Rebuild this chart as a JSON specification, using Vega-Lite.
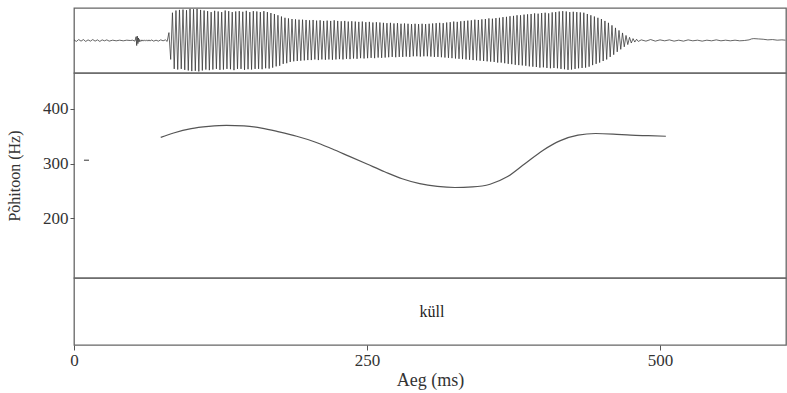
{
  "$schema": "https://vega.github.io/schema/vega-lite/v6.json",
  "background": "white",
  "padding": {"left": 5, "top": 7, "right": 0, "bottom": 0},
  "spacing": 0,
  "bounds": "flush",
  "config": {
    "font": "Liberation Serif",
    "view": {"stroke": "#666", "strokeWidth": 1.3},
    "axis": {"grid": false, "domain": false, "labelFont": "Liberation Serif", "titleFont": "Liberation Serif", "labelFontSize": 17, "titleFontSize": 16, "titleFontWeight": "normal", "labelColor": "#333", "titleColor": "#333", "tickColor": "#555"},
    "text": {"font": "Liberation Serif"}
  },
  "vconcat": [
    {
      "width": 712, "height": 65,
      "data": {"values": [
        {"t":0,"a":0.02},{"t":2,"a":-0.03},{"t":4,"a":0.03},{"t":6,"a":-0.02},{"t":8,"a":0.03},{"t":10,"a":-0.03},{"t":12,"a":0.02},{"t":14,"a":-0.02},{"t":16,"a":0.03},{"t":18,"a":-0.02},{"t":20,"a":0.02},{"t":22,"a":-0.03},{"t":24,"a":0.02},{"t":26,"a":-0.01},{"t":28,"a":0.02},{"t":30,"a":-0.02},{"t":33,"a":0.01},{"t":36,"a":-0.01},{"t":39,"a":0.01},{"t":42,"a":-0.01},{"t":45,"a":0.01},{"t":48,"a":0},{"t":50,"a":0.01},{"t":52,"a":-0.02},{"t":53,"a":0.12},{"t":53.5,"a":-0.16},{"t":54,"a":0.14},{"t":54.5,"a":-0.1},{"t":55,"a":0.08},{"t":55.5,"a":-0.05},{"t":56,"a":0.03},{"t":57,"a":-0.03},{"t":58,"a":0.02},{"t":59,"a":-0.02},{"t":60,"a":0.02},{"t":61,"a":-0.02},{"t":62,"a":0.02},{"t":63,"a":-0.02},{"t":64,"a":0.02},{"t":65,"a":-0.02},{"t":66,"a":0.02},{"t":68,"a":-0.02},{"t":70,"a":0.01},{"t":72,"a":-0.02},{"t":74,"a":0.02},{"t":76,"a":-0.01},{"t":78,"a":0.02},{"t":79.5,"a":-0.03},
        {"t":81,"a":0.25},{"t":82.5,"a":-0.6},{"t":84,"a":0.88},{"t":85.5,"a":-0.9},{"t":87,"a":0.95},{"t":88.5,"a":-0.92},{"t":90,"a":0.97},{"t":91.5,"a":-0.9},{"t":93,"a":0.98},{"t":94.5,"a":-0.93},
        {"t":96,"a":0.96},{"t":97.5,"a":-0.95},{"t":99,"a":1.0},{"t":100.5,"a":-0.97},{"t":102,"a":0.99},{"t":103.5,"a":-0.96},{"t":105,"a":1.0},{"t":106.5,"a":-0.98},{"t":108,"a":0.97},{"t":109.5,"a":-0.95},
        {"t":111,"a":0.95},{"t":112.5,"a":-0.92},{"t":114,"a":0.93},{"t":115.5,"a":-0.94},{"t":117,"a":0.9},{"t":118.5,"a":-0.92},{"t":120,"a":0.94},{"t":121.5,"a":-0.9},{"t":123,"a":0.92},{"t":124.5,"a":-0.93},
        {"t":126,"a":0.9},{"t":127.5,"a":-0.92},{"t":129,"a":0.95},{"t":130.5,"a":-0.9},{"t":132,"a":0.93},{"t":133.5,"a":-0.91},{"t":135,"a":0.9},{"t":136.5,"a":-0.94},{"t":138,"a":0.92},{"t":139.5,"a":-0.9},
        {"t":141,"a":0.93},{"t":142.5,"a":-0.9},{"t":144,"a":0.91},{"t":145.5,"a":-0.93},{"t":147,"a":0.94},{"t":148.5,"a":-0.91},{"t":150,"a":0.9},{"t":151.5,"a":-0.92},{"t":153,"a":0.93},{"t":154.5,"a":-0.9},
        {"t":156,"a":0.92},{"t":157.5,"a":-0.9},{"t":159,"a":0.9},{"t":160.5,"a":-0.91},{"t":162,"a":0.93},{"t":163.5,"a":-0.88},{"t":165,"a":0.9},{"t":166.5,"a":-0.89},{"t":168,"a":0.87},{"t":169.5,"a":-0.86},
        {"t":171,"a":0.84},{"t":172.5,"a":-0.82},{"t":174,"a":0.8},{"t":175.5,"a":-0.8},{"t":177,"a":0.76},{"t":178.5,"a":-0.74},{"t":180,"a":0.72},{"t":181.5,"a":-0.72},{"t":183,"a":0.7},{"t":184.5,"a":-0.68},
        {"t":186,"a":0.68},{"t":187.5,"a":-0.66},{"t":189,"a":0.67},{"t":190.5,"a":-0.65},{"t":192,"a":0.66},{"t":193.5,"a":-0.64},{"t":195,"a":0.66},{"t":196.5,"a":-0.63},{"t":198,"a":0.65},{"t":199.5,"a":-0.62},
        {"t":201,"a":0.64},{"t":202.5,"a":-0.62},{"t":204,"a":0.65},{"t":205.5,"a":-0.6},{"t":207,"a":0.63},{"t":208.5,"a":-0.62},{"t":210,"a":0.64},{"t":211.5,"a":-0.6},{"t":213,"a":0.62},{"t":214.5,"a":-0.61},
        {"t":216,"a":0.63},{"t":217.5,"a":-0.6},{"t":219,"a":0.62},{"t":220.5,"a":-0.61},{"t":222,"a":0.64},{"t":223.5,"a":-0.6},{"t":225,"a":0.62},{"t":226.5,"a":-0.59},{"t":228,"a":0.61},{"t":229.5,"a":-0.6},
        {"t":231,"a":0.62},{"t":232.5,"a":-0.58},{"t":234,"a":0.6},{"t":235.5,"a":-0.59},{"t":237,"a":0.61},{"t":238.5,"a":-0.57},{"t":240,"a":0.6},{"t":241.5,"a":-0.58},{"t":243,"a":0.59},{"t":244.5,"a":-0.56},
        {"t":246,"a":0.6},{"t":247.5,"a":-0.57},{"t":249,"a":0.58},{"t":250.5,"a":-0.56},{"t":252,"a":0.59},{"t":253.5,"a":-0.55},{"t":255,"a":0.57},{"t":256.5,"a":-0.56},{"t":258,"a":0.58},{"t":259.5,"a":-0.54},
        {"t":261,"a":0.57},{"t":262.5,"a":-0.55},{"t":264,"a":0.56},{"t":265.5,"a":-0.54},{"t":267,"a":0.55},{"t":268.5,"a":-0.53},{"t":270,"a":0.56},{"t":271.5,"a":-0.52},{"t":273,"a":0.54},{"t":274.5,"a":-0.53},
        {"t":276,"a":0.55},{"t":277.5,"a":-0.52},{"t":279,"a":0.53},{"t":280.5,"a":-0.52},{"t":282,"a":0.54},{"t":283.5,"a":-0.51},{"t":285,"a":0.53},{"t":286.5,"a":-0.52},{"t":288,"a":0.52},{"t":289.5,"a":-0.5},
        {"t":291,"a":0.53},{"t":292.5,"a":-0.5},{"t":294,"a":0.52},{"t":295.5,"a":-0.51},{"t":297,"a":0.53},{"t":298.5,"a":-0.5},{"t":300,"a":0.52},{"t":301.5,"a":-0.5},{"t":303,"a":0.53},{"t":304.5,"a":-0.51},
        {"t":306,"a":0.54},{"t":307.5,"a":-0.52},{"t":309,"a":0.55},{"t":310.5,"a":-0.52},{"t":312,"a":0.56},{"t":313.5,"a":-0.53},{"t":315,"a":0.55},{"t":316.5,"a":-0.54},{"t":318,"a":0.57},{"t":319.5,"a":-0.55},
        {"t":321,"a":0.58},{"t":322.5,"a":-0.56},{"t":324,"a":0.6},{"t":325.5,"a":-0.57},{"t":327,"a":0.59},{"t":328.5,"a":-0.58},{"t":330,"a":0.61},{"t":331.5,"a":-0.59},{"t":333,"a":0.62},{"t":334.5,"a":-0.6},
        {"t":336,"a":0.63},{"t":337.5,"a":-0.61},{"t":339,"a":0.64},{"t":340.5,"a":-0.62},{"t":342,"a":0.66},{"t":343.5,"a":-0.63},{"t":345,"a":0.65},{"t":346.5,"a":-0.64},{"t":348,"a":0.67},{"t":349.5,"a":-0.65},
        {"t":351,"a":0.68},{"t":352.5,"a":-0.66},{"t":354,"a":0.7},{"t":355.5,"a":-0.67},{"t":357,"a":0.69},{"t":358.5,"a":-0.68},{"t":360,"a":0.71},{"t":361.5,"a":-0.7},{"t":363,"a":0.72},{"t":364.5,"a":-0.7},
        {"t":366,"a":0.74},{"t":367.5,"a":-0.72},{"t":369,"a":0.75},{"t":370.5,"a":-0.74},{"t":372,"a":0.77},{"t":373.5,"a":-0.75},{"t":375,"a":0.78},{"t":376.5,"a":-0.77},{"t":378,"a":0.8},{"t":379.5,"a":-0.78},
        {"t":381,"a":0.8},{"t":382.5,"a":-0.79},{"t":384,"a":0.82},{"t":385.5,"a":-0.8},{"t":387,"a":0.83},{"t":388.5,"a":-0.82},{"t":390,"a":0.84},{"t":391.5,"a":-0.83},{"t":393,"a":0.86},{"t":394.5,"a":-0.84},
        {"t":396,"a":0.85},{"t":397.5,"a":-0.86},{"t":399,"a":0.87},{"t":400.5,"a":-0.85},{"t":402,"a":0.88},{"t":403.5,"a":-0.87},{"t":405,"a":0.86},{"t":406.5,"a":-0.88},{"t":408,"a":0.89},{"t":409.5,"a":-0.87},
        {"t":411,"a":0.9},{"t":412.5,"a":-0.88},{"t":414,"a":0.92},{"t":415.5,"a":-0.9},{"t":417,"a":0.93},{"t":418.5,"a":-0.91},{"t":420,"a":0.92},{"t":421.5,"a":-0.93},{"t":423,"a":0.9},{"t":424.5,"a":-0.92},
        {"t":426,"a":0.91},{"t":427.5,"a":-0.9},{"t":429,"a":0.9},{"t":430.5,"a":-0.88},{"t":432,"a":0.89},{"t":433.5,"a":-0.87},{"t":435,"a":0.88},{"t":436.5,"a":-0.86},{"t":438,"a":0.84},{"t":439.5,"a":-0.83},
        {"t":441,"a":0.8},{"t":442.5,"a":-0.78},{"t":444,"a":0.76},{"t":445.5,"a":-0.74},{"t":447,"a":0.72},{"t":448.5,"a":-0.7},{"t":450,"a":0.68},{"t":451.5,"a":-0.65},{"t":453,"a":0.62},{"t":454.5,"a":-0.6},
        {"t":456,"a":0.56},{"t":457.5,"a":-0.52},{"t":459,"a":0.48},{"t":460.5,"a":-0.45},{"t":462,"a":0.4},{"t":463.5,"a":-0.36},{"t":465,"a":0.32},{"t":466.5,"a":-0.28},{"t":468,"a":0.24},{"t":469.5,"a":-0.2},
        {"t":471,"a":0.16},{"t":472.5,"a":-0.13},{"t":474,"a":0.1},{"t":475.5,"a":-0.08},{"t":477,"a":0.06},{"t":478.5,"a":-0.05},{"t":480,"a":0.04},{"t":481.5,"a":-0.03},
        {"t":484,"a":0.02},{"t":488,"a":-0.02},{"t":492,"a":0.03},{"t":496,"a":-0.02},{"t":500,"a":0.02},{"t":504,"a":-0.01},{"t":508,"a":0.02},{"t":512,"a":-0.02},{"t":516,"a":0.01},{"t":520,"a":-0.02},{"t":524,"a":0.02},{"t":528,"a":-0.01},{"t":532,"a":0.01},{"t":536,"a":-0.02},{"t":540,"a":0.01},{"t":544,"a":-0.01},{"t":548,"a":0.02},{"t":552,"a":-0.01},{"t":556,"a":0.01},{"t":560,"a":-0.01},{"t":564,"a":0.01},{"t":568,"a":-0.01},{"t":572,"a":0},{"t":576,"a":0.02},{"t":578,"a":0.05},{"t":580,"a":0.06},{"t":584,"a":0.05},{"t":588,"a":0.04},{"t":592,"a":0.02},{"t":596,"a":0.03},{"t":600,"a":0.01},{"t":604,"a":0.02},{"t":607,"a":0.01}
      ]},
      "mark": {"type": "line", "color": "#333", "strokeWidth": 0.75, "clip": true},
      "encoding": {
        "x": {"field": "t", "type": "quantitative", "scale": {"domain": [0, 607.5], "nice": false, "zero": false}, "axis": null},
        "y": {"field": "a", "type": "quantitative", "scale": {"domain": [-1.03, 1.03], "nice": false}, "axis": null}
      }
    },
    {
      "width": 712, "height": 205,
      "data": {"values": [
        {"s":"a","t":8.5,"f":306},{"s":"a","t":12.8,"f":306},
        {"s":"b","t":74,"f":348},{"s":"b","t":85,"f":356},{"s":"b","t":100,"f":364},{"s":"b","t":115,"f":368},{"s":"b","t":130,"f":370},{"s":"b","t":145,"f":369},{"s":"b","t":160,"f":365},{"s":"b","t":175,"f":358},{"s":"b","t":190,"f":350},{"s":"b","t":205,"f":340},{"s":"b","t":220,"f":327},{"s":"b","t":235,"f":313},{"s":"b","t":250,"f":299},{"s":"b","t":265,"f":285},{"s":"b","t":280,"f":272},{"s":"b","t":295,"f":263},{"s":"b","t":310,"f":258},{"s":"b","t":325,"f":256},{"s":"b","t":340,"f":257},{"s":"b","t":355,"f":262},{"s":"b","t":370,"f":276},{"s":"b","t":385,"f":300},{"s":"b","t":400,"f":324},{"s":"b","t":415,"f":342},{"s":"b","t":430,"f":352},{"s":"b","t":445,"f":355},{"s":"b","t":460,"f":354},{"s":"b","t":475,"f":352},{"s":"b","t":490,"f":351},{"s":"b","t":505,"f":350}
      ]},
      "mark": {"type": "line", "color": "#555", "strokeWidth": 1.2, "interpolate": "monotone"},
      "encoding": {
        "x": {"field": "t", "type": "quantitative", "scale": {"domain": [0, 607.5], "nice": false, "zero": false}, "axis": null},
        "y": {"field": "f", "type": "quantitative", "scale": {"domain": [90, 466], "nice": false, "zero": false},
              "axis": {"values": [200, 300, 400], "title": "Põhitoon (Hz)", "tickSize": 4, "labelPadding": 2, "titlePadding": 20}},
        "detail": {"field": "s"}
      }
    },
    {
      "width": 712, "height": 67,
      "data": {"values": [{"t": 305.5, "w": "küll"}]},
      "mark": {"type": "text", "font": "Liberation Serif", "fontSize": 16, "color": "#222", "baseline": "middle", "align": "center"},
      "encoding": {
        "x": {"field": "t", "type": "quantitative", "scale": {"domain": [0, 607.5], "nice": false, "zero": false},
              "axis": {"values": [0, 250, 500], "title": "Aeg (ms)", "titleFontSize": 18, "tickSize": 5, "labelPadding": 2, "titlePadding": 3, "labelFlush": false}},
        "text": {"field": "w"}
      }
    }
  ]
}
